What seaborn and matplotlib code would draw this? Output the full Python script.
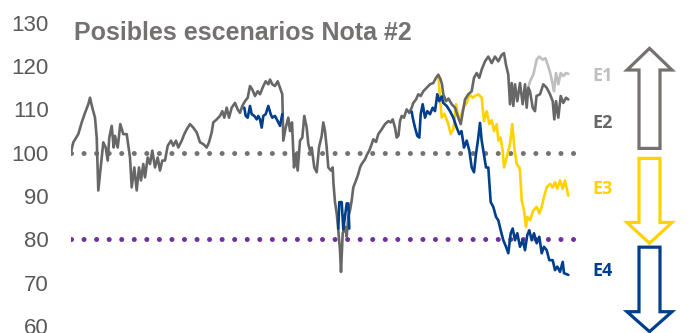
import seaborn as sns
import matplotlib
matplotlib.use("Agg")
from matplotlib import pyplot as plt
from matplotlib.patches import Polygon

# time index (one unit ~ one sample) and values
e2_t = [71.0, 73.3, 78.3, 81.7, 85.0, 88.3, 90.0, 92.3, 95.0, 96.7, 98.3, 101.0, 103.3, 105.7,
        107.7, 109.3, 111.7, 113.7, 115.0, 117.7, 120.3, 123.3, 126.7, 130.0, 131.7, 134.3,
        136.7, 139.0, 141.0, 143.3, 145.0, 147.7, 150.0, 152.3, 155.0, 157.7, 160.0, 162.3,
        165.0, 167.7, 171.0, 173.3, 176.0, 178.3, 181.7, 184.3, 186.7, 190.0, 193.3, 196.7,
        200.0, 203.3, 206.7, 209.0, 211.7, 213.3, 216.7, 220.0, 222.3, 224.3, 226.7, 229.0,
        231.7, 235.0, 237.7, 240.0, 242.3, 245.0, 247.7, 250.0, 252.3, 255.0, 257.7, 260.0,
        263.3, 265.7, 268.3, 270.0, 272.3, 275.0, 277.7, 280.0, 282.3, 283.3, 285.7, 288.3,
        290.0, 292.0, 294.0, 295.7, 297.7, 300.0, 302.3, 304.3, 306.7, 308.3, 310.0, 311.7,
        314.3, 316.7, 319.0, 321.7, 323.3, 325.0, 326.7, 328.3, 331.0, 332.7, 333.5, 335.0,
        336.7, 338.3, 340.0, 341.0, 342.7, 345.0, 346.7, 348.3, 350.0, 351.7, 353.3, 356.0,
        358.3, 360.0, 361.7, 365.0, 367.3, 369.3, 371.7, 373.3, 376.0, 378.3, 381.7, 385.0,
        388.3, 390.7, 392.7, 395.0, 396.7, 398.5, 400.0, 401.7, 404.0, 406.7, 409.3, 411.7,
        413.3, 416.0, 418.3, 420.7, 423.3, 426.7, 430.0, 433.3, 436.0, 438.3, 440.5, 442.0,
        443.3, 446.0, 448.5, 451.7, 455.0, 458.3, 460.7, 462.7, 465.0, 468.3, 471.7, 474.0,
        476.7, 479.3, 481.7, 485.0, 488.3, 491.7, 495.0, 498.3, 501.7, 504.0, 506.0, 508.3,
        510.0, 511.7, 513.3, 515.0, 517.3, 520.0, 522.7, 525.0, 526.7, 528.3, 530.0, 532.7,
        535.0, 536.5, 540.0, 543.3, 546.7, 550.0, 552.7, 554.3, 556.0, 558.3, 560.7, 563.3,
        566.0, 568.3]
e2_v = [100.1, 102.4, 104.3, 107.0, 109.2, 111.2, 112.7, 110.4, 108.1, 103.5, 91.3, 97.4, 102.4,
        101.2, 98.2, 103.5, 106.2, 101.2, 103.9, 101.2, 106.6, 104.3, 104.3, 98.9, 92.0, 96.6,
        91.3, 96.6, 93.6, 97.4, 94.3, 98.9, 97.4, 100.5, 96.6, 98.9, 95.9, 98.2, 98.2, 101.6,
        102.8, 101.6, 102.8, 101.2, 102.8, 104.3, 105.4, 106.6, 105.8, 104.7, 102.4, 102.0,
        101.2, 102.4, 104.7, 107.0, 107.7, 108.5, 109.6, 108.1, 110.4, 108.1, 110.4, 111.5,
        110.0, 109.2, 110.8, 111.9, 112.7, 115.4, 114.6, 113.1, 114.2, 113.5, 115.4, 116.5,
        115.8, 116.9, 115.8, 115.4, 116.5, 115.0, 113.5, 102.8, 105.8, 108.1, 105.0, 107.0,
        96.6, 99.7, 95.9, 102.8, 103.5, 108.5, 105.8, 102.0, 100.5, 101.2, 96.6, 95.5, 101.2,
        103.9, 107.0, 105.0, 101.2, 96.6, 95.9, 96.6, 92.8, 88.6, 86.0, 82.1, 77.5, 72.5, 81.4,
        82.9, 80.6, 85.2, 86.7, 89.0, 92.0, 93.6, 95.1, 96.6, 97.4, 98.5, 99.7, 100.5, 102.0,
        103.1, 102.5, 104.3, 105.4, 106.6, 107.3, 107.0, 107.7, 105.8, 103.5, 104.0, 107.3,
        108.5, 108.1, 110.0, 109.2, 110.4, 111.5, 112.3, 113.5, 113.1, 114.2, 115.0, 115.8,
        116.1, 117.3, 118.0, 117.0, 115.8, 113.5, 111.9, 112.5, 111.2, 110.4, 108.1, 106.6,
        109.2, 112.3, 113.5, 114.2, 117.3, 118.4, 117.3, 119.2, 121.1, 122.2, 120.7, 122.2,
        121.1, 122.6, 123.0, 120.3, 118.0, 111.2, 116.1, 110.8, 115.8, 111.9, 116.1, 111.2,
        115.8, 110.4, 115.0, 114.2, 110.4, 109.6, 113.1, 113.5, 115.8, 115.0, 113.5, 111.9,
        107.7, 111.9, 108.1, 113.1, 111.5, 112.7, 112.3]

e1_t = [528.3, 530.0, 533.3, 536.7, 539.3, 542.7, 545.5, 548.3, 550.7, 552.7, 554.0, 556.0,
        558.3, 560.7, 563.3, 566.0, 568.3]
e1_v = [115.0, 116.5, 118.0, 121.5, 122.2, 121.5, 121.8, 119.9, 118.0, 115.8, 114.2, 118.4,
        115.8, 118.4, 117.7, 118.4, 118.2]

e3_t = [438.3, 440.0, 441.7, 444.5, 448.3, 450.7, 453.5, 456.0, 458.3, 461.0, 463.3, 466.7,
        469.3, 472.7, 475.0, 478.3, 481.7, 484.0, 486.7, 489.3, 491.7, 494.0, 496.7, 498.3,
        500.5, 502.7, 504.0, 506.7, 510.0, 512.3, 514.3, 516.7, 519.3, 520.0, 521.7, 524.0,
        526.0, 527.3, 530.0, 533.3, 536.7, 539.3, 541.7, 544.0, 546.7, 550.0, 552.7, 555.0,
        557.3, 560.0, 562.7, 565.0, 568.3]
e3_v = [118.0, 112.7, 108.1, 109.0, 106.6, 104.3, 105.5, 111.2, 108.1, 108.5, 110.4, 111.5,
        113.5, 112.7, 113.1, 113.5, 112.7, 107.3, 109.6, 106.6, 107.5, 105.0, 106.6, 102.8,
        103.5, 100.5, 96.6, 98.9, 102.0, 106.6, 101.2, 97.4, 96.6, 95.9, 89.0, 86.7, 82.9,
        85.2, 84.4, 86.7, 87.5, 86.0, 87.5, 89.8, 92.0, 92.8, 92.0, 93.2, 91.7, 93.6, 91.7,
        93.6, 90.1]

e4_t = [411.7, 412.7, 415.0, 417.3, 419.3, 420.7, 422.7, 425.0, 427.3, 430.0, 432.7, 435.0,
        437.3, 439.3, 441.7, 443.3, 446.7, 450.0, 453.3, 456.7, 459.3, 461.5, 464.0, 466.7,
        469.3, 471.7, 474.0, 476.0, 478.3, 480.0, 481.7, 483.3, 486.0, 488.3, 490.7, 493.3,
        496.0, 498.3, 500.7, 503.3, 506.0, 508.3, 510.7, 512.7, 515.0, 517.3, 520.0, 522.7,
        525.0, 527.3, 529.3, 531.7, 534.0, 536.7, 539.3, 541.7, 544.0, 546.7, 549.3, 552.7,
        555.0, 557.3, 560.0, 562.7, 564.0, 568.3]
e4_v = [109.5, 108.1, 105.8, 103.9, 103.5, 108.9, 111.2, 108.1, 109.6, 108.9, 110.4, 109.6,
        113.5, 111.9, 113.0, 111.5, 110.8, 109.6, 108.1, 105.8, 104.3, 105.0, 101.2, 102.8,
        100.5, 96.6, 95.5, 99.7, 103.5, 106.9, 102.8, 100.5, 96.6, 96.6, 88.6, 87.5, 85.2,
        84.4, 82.1, 79.8, 78.3, 76.8, 81.4, 82.5, 79.8, 81.4, 78.3, 79.8, 77.5, 81.0, 82.1,
        79.8, 81.4, 79.1, 80.6, 76.8, 78.3, 77.5, 75.2, 75.2, 72.9, 73.7, 72.5, 74.8, 72.2,
        71.8]

# short blue stretches drawn over the history
e4a_t = [244.3, 245.7, 247.7, 250.0, 251.7, 254.3, 256.7, 258.3, 260.0, 261.7, 263.3, 265.7,
         268.3, 270.7, 272.3, 275.0, 277.7, 280.0, 282.3]
e4a_v = [110.4, 108.5, 108.1, 110.8, 108.9, 108.5, 107.7, 108.5, 107.7, 105.8, 108.5, 108.9,
         110.8, 108.9, 108.1, 108.5, 107.3, 106.2, 108.9]
e4b_t = [338.3, 339.3, 341.7, 343.3, 346.7, 348.3, 349.3]
e4b_v = [82.5, 88.6, 88.6, 82.3, 88.3, 88.3, 82.5]

yticks = [60, 70, 80, 90, 100, 110, 120, 130]
labels = ["E1", "E2", "E3", "E4"]
label_y = [117.7, 106.8, 91.6, 72.8]

GRAY = "#676767"
LGRAY = "#BFBFBF"
YELLOW = "#FFD200"
BLUE = "#003F8C"
DOTGRAY = "#767171"
PURPLE = "#7030A0"

sns.set_theme(style="white")
plt.rcParams["font.family"] = ["Liberation Sans", "DejaVu Sans"]

fig = plt.figure(figsize=(6.94, 3.33), dpi=100)
ax = fig.add_axes([71 / 694, 7 / 333, 514 / 694, 303.2 / 333])

ax.hlines(100, 71, 581, colors=DOTGRAY, linewidth=3.6, linestyles=(0, (0.01, 2.5)),
          capstyle="round", zorder=1)
ax.hlines(80, 71, 581, colors=PURPLE, linewidth=3.6, linestyles=(0, (0.01, 2.5)),
          capstyle="round", zorder=1)

lw = 1.9
sns.lineplot(x=e1_t, y=e1_v, color=LGRAY, linewidth=lw, estimator=None, sort=False, ax=ax)
sns.lineplot(x=e3_t, y=e3_v, color=YELLOW, linewidth=lw, estimator=None, sort=False, ax=ax)
sns.lineplot(x=e2_t, y=e2_v, color=GRAY, linewidth=lw, estimator=None, sort=False, ax=ax)
sns.lineplot(x=e4_t, y=e4_v, color=BLUE, linewidth=lw, estimator=None, sort=False, ax=ax)
sns.lineplot(x=e4a_t, y=e4a_v, color=BLUE, linewidth=lw, estimator=None, sort=False, ax=ax)
sns.lineplot(x=e4b_t, y=e4b_v, color=BLUE, linewidth=lw, estimator=None, sort=False, ax=ax)

ax.set_xlim(71, 585)
ax.set_ylim(60, 130)
ax.set_xticks([])
ax.set_yticks(yticks)
ax.set_yticklabels([str(v) for v in yticks], color="#595959", fontsize=16)
ax.tick_params(axis="y", length=0, pad=16)
ax.set_xlabel("")
ax.set_ylabel("")
sns.despine(ax=ax, left=True, bottom=True)

ax.text(74, 127.6, "Posibles escenarios Nota #2", fontsize=18, fontweight="bold",
        color=DOTGRAY, va="center", ha="left")

for lab, y, c in zip(labels, label_y, [LGRAY, GRAY, YELLOW, BLUE]):
    ax.text(592, y, lab, fontsize=13, fontweight="bold", color=c, va="center", ha="left",
            family=["Open Sans", "DejaVu Sans"], clip_on=False)

# block arrows on the right
def block_arrow(y_tail, y_base, y_tip, color):
    pts = [(639, y_tail), (660, y_tail), (660, y_base), (672, y_base), (649.5, y_tip),
           (627, y_base), (639, y_base)]
    ax.add_patch(Polygon(pts, closed=True, facecolor="white", edgecolor=color,
                         linewidth=2.3, joinstyle="miter", clip_on=False, zorder=3))

block_arrow(101.0, 119.1, 124.1, DOTGRAY)
block_arrow(98.7, 83.9, 79.1, YELLOW)
block_arrow(78.2, 63.3, 58.7, BLUE)

fig.savefig("out.png", dpi=100)
